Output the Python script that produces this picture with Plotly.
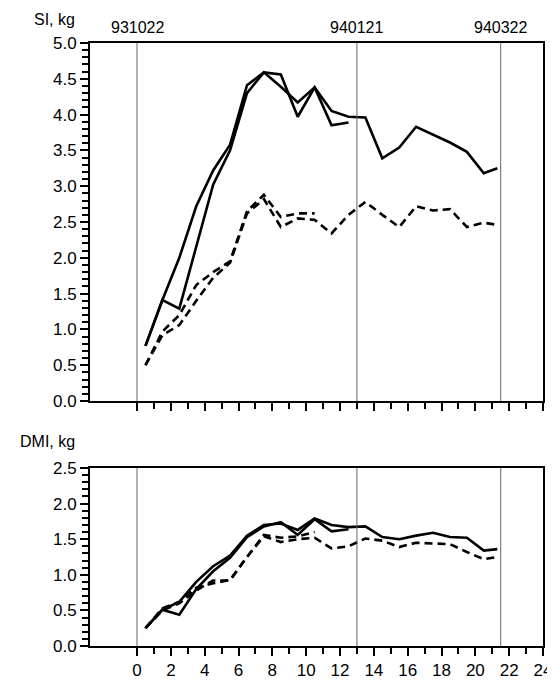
import plotly.graph_objects as go

# ---- data ----
weeks_long = [0.5, 1.5, 2.5, 3.5, 4.5, 5.5, 6.5, 7.5, 8.5, 9.5, 10.5, 11.5,
              12.5, 13.5, 14.5, 15.5, 16.5, 17.5, 18.5, 19.5, 20.5, 21.3]
weeks_short = [0.5, 1.5, 2.5, 3.5, 4.5, 5.5, 6.5, 7.5, 8.5, 9.5, 10.5, 11.5, 12.5]
weeks_short_d = [0.5, 1.5, 2.5, 3.5, 4.5, 5.5, 6.5, 7.5, 8.5, 9.5, 10.5]

si_solid_long = [0.77, 1.41, 2.0, 2.72, 3.22, 3.58, 4.41, 4.59, 4.56, 3.97, 4.38, 4.05,
                 3.97, 3.96, 3.39, 3.54, 3.83, 3.72, 3.61, 3.48, 3.18, 3.25]
si_solid_short = [0.77, 1.41, 1.29, 2.15, 3.02, 3.5, 4.3, 4.59, 4.39, 4.17, 4.38, 3.85, 3.89]
si_dash_long = [0.50, 0.92, 1.06, 1.40, 1.72, 1.93, 2.62, 2.82, 2.43, 2.55, 2.53, 2.34,
                2.60, 2.78, 2.60, 2.43, 2.72, 2.66, 2.68, 2.43, 2.49, 2.46]
si_dash_short = [0.50, 0.97, 1.20, 1.62, 1.80, 1.95, 2.65, 2.88, 2.57, 2.62, 2.62]

dmi_solid_long = [0.25, 0.51, 0.62, 0.90, 1.12, 1.27, 1.55, 1.70, 1.72, 1.63, 1.79, 1.70,
                  1.67, 1.68, 1.53, 1.50, 1.55, 1.59, 1.53, 1.52, 1.34, 1.36]
dmi_solid_short = [0.25, 0.51, 0.44, 0.80, 1.05, 1.24, 1.53, 1.68, 1.74, 1.56, 1.78, 1.61, 1.64]
dmi_dash_long = [0.25, 0.50, 0.60, 0.78, 0.92, 0.92, 1.25, 1.54, 1.46, 1.50, 1.52, 1.37,
                 1.40, 1.51, 1.48, 1.39, 1.45, 1.44, 1.43, 1.32, 1.22, 1.25]
dmi_dash_short = [0.25, 0.53, 0.62, 0.82, 0.88, 0.93, 1.25, 1.56, 1.52, 1.54, 1.60]

date_positions = [0, 13, 21.5]
date_labels = ["931022", "940121", "940322"]
x_ticks = list(range(0, 25, 2))
x_minor = list(range(1, 24, 2))
si_ticks = [0.0, 0.5, 1.0, 1.5, 2.0, 2.5, 3.0, 3.5, 4.0, 4.5, 5.0]
dmi_ticks = [0.0, 0.5, 1.0, 1.5, 2.0, 2.5]
si_minor = [round(i * 0.1, 1) for i in range(51) if i % 5]
dmi_minor = [round(i * 0.1, 1) for i in range(26) if i % 5]

# ---- figure ----
fig = go.Figure()
solid = dict(color="black", width=2.6)
dashed = dict(color="black", width=2.6, dash="8px,5px")

def add(x, y, line, xa, ya):
    fig.add_trace(go.Scatter(x=x, y=y, mode="lines", line=line, xaxis=xa, yaxis=ya,
                             showlegend=False, hoverinfo="skip"))

add(weeks_long, si_solid_long, solid, "x", "y")
add(weeks_short, si_solid_short, solid, "x", "y")
add(weeks_long, si_dash_long, dashed, "x", "y")
add(weeks_short_d, si_dash_short, dashed, "x", "y")
add(weeks_long, dmi_solid_long, solid, "x2", "y2")
add(weeks_short, dmi_solid_short, solid, "x2", "y2")
add(weeks_long, dmi_dash_long, dashed, "x2", "y2")
add(weeks_short_d, dmi_dash_short, dashed, "x2", "y2")

font = dict(family="Liberation Sans, Arial, sans-serif", size=16, color="black")
xr = [-2.78, 24]

common_x = dict(range=xr, showline=True, linecolor="black", linewidth=2, mirror=True,
                ticks="outside", ticklen=8, tickwidth=1.5, tickcolor="black",
                tickvals=x_ticks, showgrid=False, zeroline=False, automargin=False,
                tickfont=dict(size=17),
                minor=dict(tickvals=x_minor, ticks="outside", ticklen=6,
                           tickwidth=1.5, tickcolor="black"))

def yaxis(ticks, minor, rng, dom, anchor):
    return dict(showline=True, linecolor="black", linewidth=2, mirror=True,
                ticks="outside", ticklen=8, tickwidth=1.5, tickcolor="black",
                tickvals=ticks, ticktext=[f"{t:.1f}" for t in ticks],
                showgrid=False, zeroline=False, automargin=False,
                tickfont=dict(size=17), range=rng, domain=dom, anchor=anchor,
                minor=dict(tickvals=minor, ticks="outside", ticklen=6,
                           tickwidth=1.5, tickcolor="black", showgrid=False))

fig.update_layout(
    width=547, height=680,
    margin=dict(l=82, r=12, t=35, b=42),
    paper_bgcolor="white", plot_bgcolor="white",
    font=font,
    xaxis=dict(common_x, domain=[0, 1], anchor="y", showticklabels=False),
    yaxis=yaxis(si_ticks, si_minor, [0, 5], [0.4063, 1.0], "x"),
    xaxis2=dict(common_x, domain=[0, 1], anchor="y2", showticklabels=True),
    yaxis2=yaxis(dmi_ticks, dmi_minor, [0, 2.5], [0, 0.2952], "x2"),
)

shapes = []
for xa, ya in [("x", "y"), ("x2", "y2")]:
    for p in date_positions:
        shapes.append(dict(type="line", xref=xa, yref=ya + " domain", x0=p, x1=p,
                           y0=0, y1=1, line=dict(color="#666", width=1)))
fig.update_layout(shapes=shapes)

ann = []
for p, lab in zip(date_positions, date_labels):
    ann.append(dict(x=p, y=1.0, xref="x", yref="paper", text=lab, showarrow=False,
                    xanchor="center", yanchor="bottom", yshift=5, font=font))
ann.append(dict(x=-0.029, y=1.0, xref="paper", yref="paper", text="SI, kg",
                showarrow=False, xanchor="right", yanchor="bottom", yshift=13, font=font))
ann.append(dict(x=-0.029, y=0.2952, xref="paper", yref="paper", text="DMI, kg",
                showarrow=False, xanchor="right", yanchor="bottom", yshift=16, font=font))
fig.update_layout(annotations=ann)

fig.write_html("out.html")
